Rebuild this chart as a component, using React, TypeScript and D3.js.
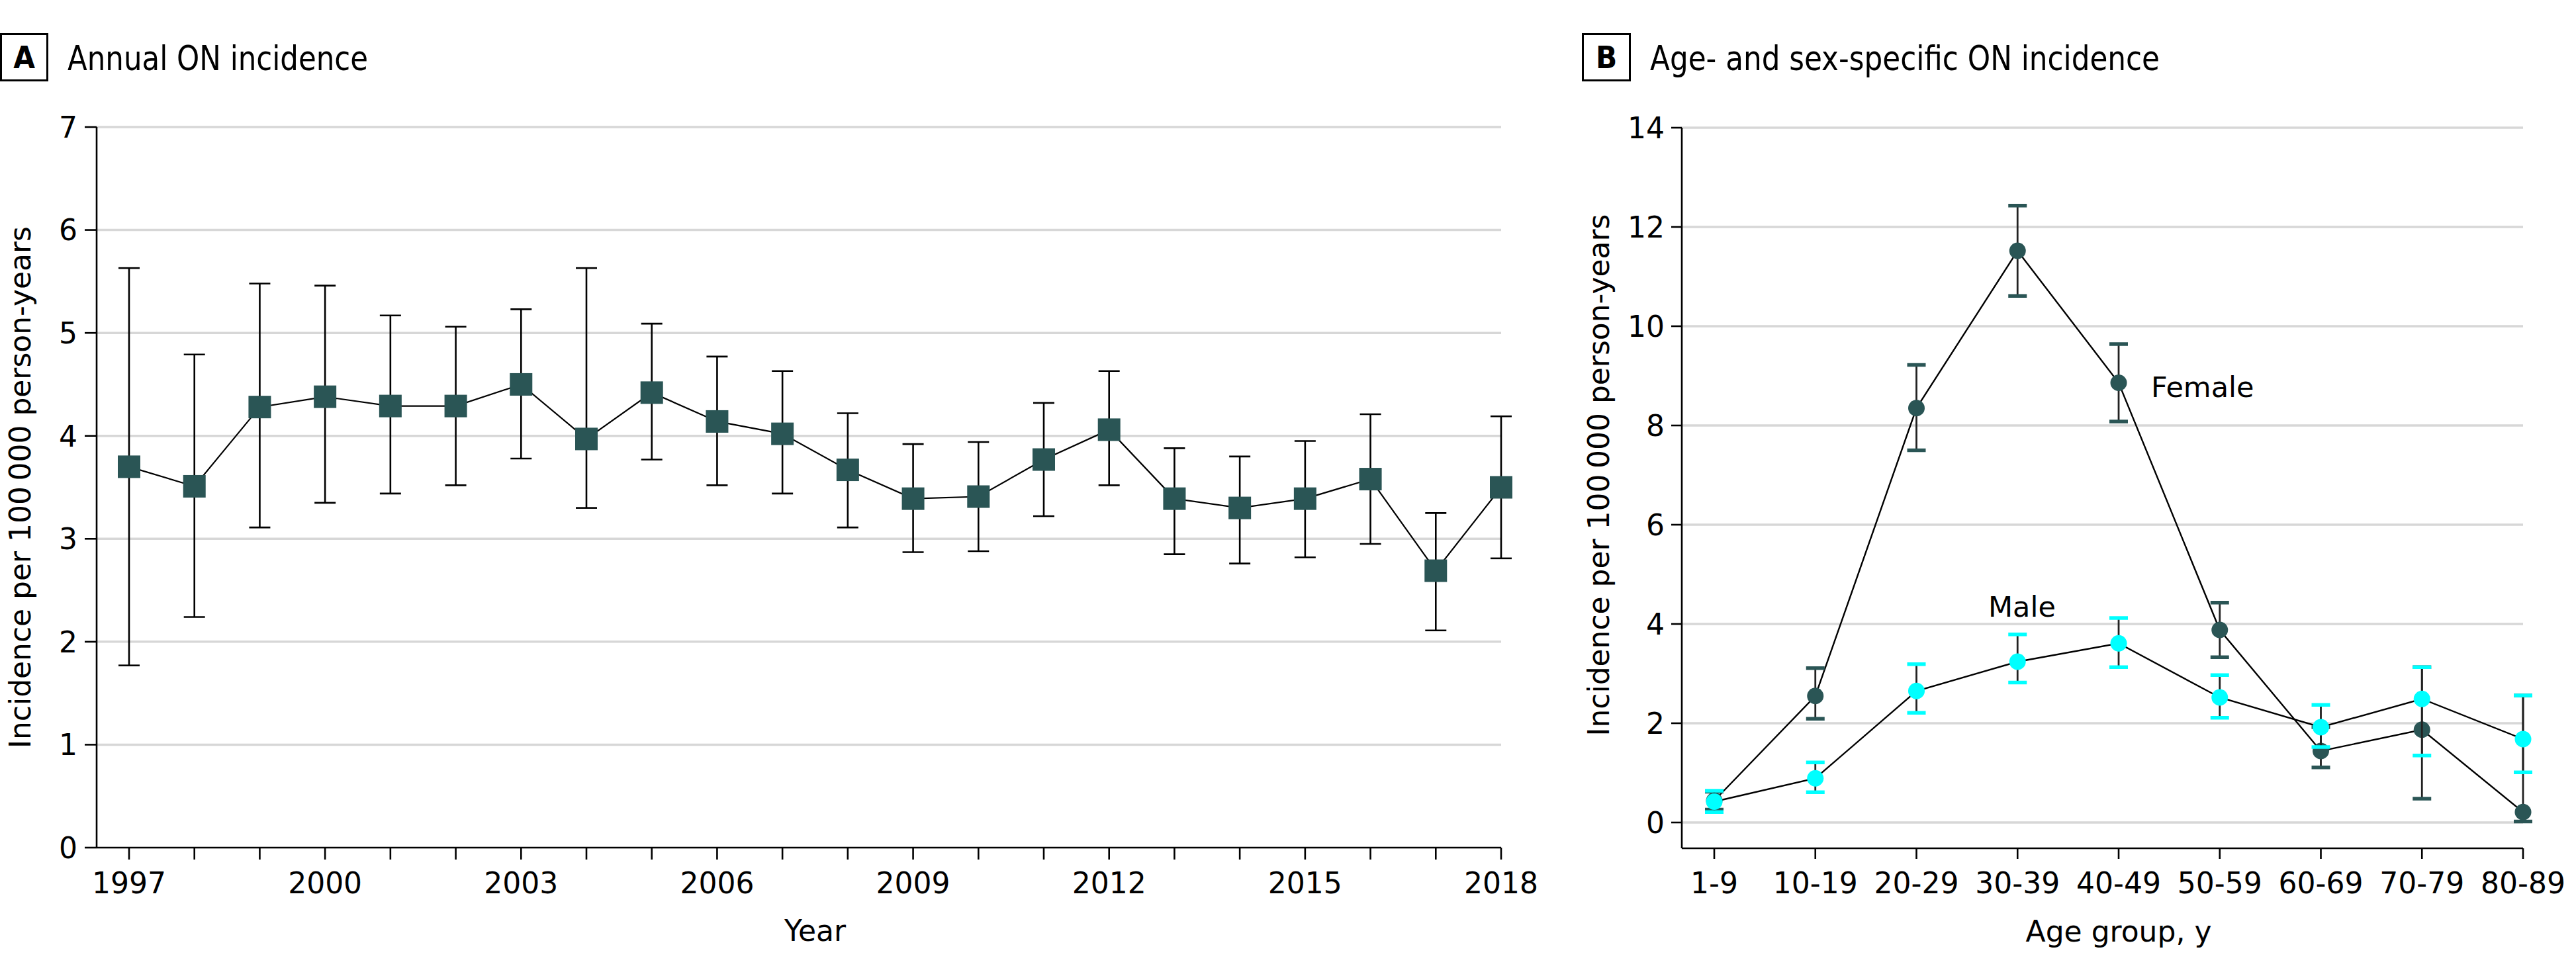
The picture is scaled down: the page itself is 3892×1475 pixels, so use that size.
import React from "react";
import * as d3 from "d3";

const years = [1997, 1998, 1999, 2000, 2001, 2002, 2003, 2004, 2005, 2006, 2007, 2008, 2009, 2010, 2011, 2012, 2013, 2014, 2015, 2016, 2017, 2018];
const yearTickLabels = [1997, 2000, 2003, 2006, 2009, 2012, 2015, 2018];
const annualRate = [3.70, 3.51, 4.28, 4.38, 4.29, 4.29, 4.50, 3.97, 4.42, 4.14, 4.02, 3.67, 3.39, 3.41, 3.77, 4.06, 3.39, 3.30, 3.39, 3.58, 2.69, 3.50];
const annualLower = [1.77, 2.24, 3.11, 3.35, 3.44, 3.52, 3.78, 3.30, 3.77, 3.52, 3.44, 3.11, 2.87, 2.88, 3.22, 3.52, 2.85, 2.76, 2.82, 2.95, 2.11, 2.81];
const annualUpper = [5.63, 4.79, 5.48, 5.46, 5.17, 5.06, 5.23, 5.63, 5.09, 4.77, 4.63, 4.22, 3.92, 3.94, 4.32, 4.63, 3.88, 3.80, 3.95, 4.21, 3.25, 4.19];
const yTicksA = [0, 1, 2, 3, 4, 5, 6, 7];

const ageGroups = ["1-9", "10-19", "20-29", "30-39", "40-49", "50-59", "60-69", "70-79", "80-89"];
const femaleRate = [0.44, 2.55, 8.35, 11.52, 8.86, 3.88, 1.44, 1.87, 0.21];
const femaleLower = [0.26, 2.09, 7.50, 10.61, 8.08, 3.33, 1.11, 0.48, 0.02];
const femaleUpper = [0.62, 3.11, 9.22, 12.43, 9.64, 4.43, 1.92, 3.13, 2.56];
const maleRate = [0.42, 0.89, 2.65, 3.24, 3.61, 2.52, 1.92, 2.49, 1.68];
const maleLower = [0.21, 0.61, 2.21, 2.82, 3.13, 2.11, 1.52, 1.35, 1.01];
const maleUpper = [0.64, 1.21, 3.19, 3.79, 4.12, 2.97, 2.37, 3.13, 2.56];
const yTicksB = [0, 2, 4, 6, 8, 10, 12, 14];

const DARK = "#2a5555";
const CYAN = "#00ffff";
const GRID = "#d7d7d7";
const FONT = "'DejaVu Sans', Verdana, sans-serif";
const COND = "'DejaVu Sans Condensed', 'Liberation Sans Narrow', 'DejaVu Sans', sans-serif";

export default function App() {
  const W = 3892, H = 1475;

  // Panel A scales
  const xA = d3.scaleLinear().domain([1997, 2018]).range([195, 2268]);
  const yA = d3.scaleLinear().domain([0, 7]).range([1281, 192]);
  const axisAx = 146;
  const lineA = d3.line<number>().x((_, i) => xA(years[i])).y((d) => yA(d));

  // Panel B scales
  const xB = d3.scalePoint<string>().domain(ageGroups).range([2590, 3812]);
  const yB = d3.scaleLinear().domain([0, 14]).range([1243, 193]);
  const axisBx = 2541;
  const axisBy = yB(-0.52);
  const lineB = d3.line<number>().x((_, i) => xB(ageGroups[i]) as number).y((d) => yB(d));

  const tickFs = 44;

  return (
    <svg width={W} height={H} style={{ position: "absolute", left: 0, top: 0, display: "block", background: "#fff" }}>
      <rect x={0} y={0} width={W} height={H} fill="#fff" />

      {/* ---------- Panel A ---------- */}
      <rect x={1.5} y={51.5} width={70} height={70} fill="none" stroke="#000" strokeWidth={3} />
      <text x={36.5} y={103} textAnchor="middle" fontFamily={COND} fontWeight="bold" fontSize={47}>A</text>
      <text x={102} y={106} fontFamily={COND} fontSize={52} textLength={454} lengthAdjust="spacingAndGlyphs">Annual ON incidence</text>

      {/* gridlines */}
      {yTicksA.filter((t) => t > 0).map((t) => (
        <line key={"ga" + t} x1={axisAx} x2={xA(2018)} y1={yA(t)} y2={yA(t)} stroke={GRID} strokeWidth={3.5} />
      ))}
      {/* y axis */}
      <line x1={axisAx} x2={axisAx} y1={yA(7)} y2={yA(0)} stroke="#000" strokeWidth={2.6} />
      {yTicksA.map((t) => (
        <g key={"ya" + t}>
          <line x1={axisAx - 18} x2={axisAx} y1={yA(t)} y2={yA(t)} stroke="#000" strokeWidth={2.6} />
          <text x={axisAx - 29} y={yA(t)} dy="0.36em" textAnchor="end" fontFamily={FONT} fontSize={tickFs}>{t}</text>
        </g>
      ))}
      {/* x axis */}
      <line x1={axisAx} x2={xA(2018)} y1={yA(0)} y2={yA(0)} stroke="#000" strokeWidth={2.6} />
      {years.map((yr) => (
        <line key={"xa" + yr} x1={xA(yr)} x2={xA(yr)} y1={yA(0)} y2={yA(0) + 18} stroke="#000" strokeWidth={2.6} />
      ))}
      {yearTickLabels.map((yr) => (
        <text key={"xl" + yr} x={xA(yr)} y={1350} textAnchor="middle" fontFamily={FONT} fontSize={tickFs}>{yr}</text>
      ))}
      <text x={(xA(1997) + xA(2018)) / 2} y={1422} textAnchor="middle" fontFamily={FONT} fontSize={44}>Year</text>
      <text transform={`translate(46, ${(yA(0) + yA(7)) / 2}) rotate(-90)`} textAnchor="middle" fontFamily={FONT} fontSize={44} textLength={789} lengthAdjust="spacingAndGlyphs">Incidence per 100&#8201;000 person-years</text>

      {/* error bars */}
      {years.map((yr, i) => (
        <g key={"ea" + yr} stroke="#000" strokeWidth={2.6}>
          <line x1={xA(yr)} x2={xA(yr)} y1={yA(annualLower[i])} y2={yA(annualUpper[i])} />
          <line x1={xA(yr) - 16} x2={xA(yr) + 16} y1={yA(annualLower[i])} y2={yA(annualLower[i])} />
          <line x1={xA(yr) - 16} x2={xA(yr) + 16} y1={yA(annualUpper[i])} y2={yA(annualUpper[i])} />
        </g>
      ))}
      <path d={lineA(annualRate) || ""} fill="none" stroke="#000" strokeWidth={2.2} />
      {years.map((yr, i) => (
        <rect key={"pa" + yr} x={xA(yr) - 17} y={yA(annualRate[i]) - 17} width={34} height={34} fill={DARK} />
      ))}

      {/* ---------- Panel B ---------- */}
      <rect x={2391.5} y={51.5} width={71} height={70} fill="none" stroke="#000" strokeWidth={3} />
      <text x={2427} y={103} textAnchor="middle" fontFamily={COND} fontWeight="bold" fontSize={47}>B</text>
      <text x={2493} y={106} fontFamily={COND} fontSize={52} textLength={770} lengthAdjust="spacingAndGlyphs">Age- and sex-specific ON incidence</text>

      {yTicksB.map((t) => (
        <line key={"gb" + t} x1={axisBx} x2={xB("80-89") as number} y1={yB(t)} y2={yB(t)} stroke={GRID} strokeWidth={3.5} />
      ))}
      <line x1={axisBx} x2={axisBx} y1={yB(14)} y2={axisBy} stroke="#000" strokeWidth={2.6} />
      {yTicksB.map((t) => (
        <g key={"yb" + t}>
          <line x1={axisBx - 16} x2={axisBx} y1={yB(t)} y2={yB(t)} stroke="#000" strokeWidth={2.6} />
          <text x={axisBx - 26} y={yB(t)} dy="0.36em" textAnchor="end" fontFamily={FONT} fontSize={tickFs}>{t}</text>
        </g>
      ))}
      <line x1={axisBx} x2={xB("80-89") as number} y1={axisBy} y2={axisBy} stroke="#000" strokeWidth={2.6} />
      {ageGroups.map((g) => (
        <g key={"xb" + g}>
          <line x1={xB(g) as number} x2={xB(g) as number} y1={axisBy} y2={axisBy + 16} stroke="#000" strokeWidth={2.6} />
          <text x={xB(g) as number} y={1350} textAnchor="middle" fontFamily={FONT} fontSize={tickFs}>{g}</text>
        </g>
      ))}
      <text x={((xB("1-9") as number) + (xB("80-89") as number)) / 2} y={1423} textAnchor="middle" fontFamily={FONT} fontSize={44}>Age group, y</text>
      <text transform={`translate(2431, ${(yB(0) + yB(14)) / 2}) rotate(-90)`} textAnchor="middle" fontFamily={FONT} fontSize={44} textLength={789} lengthAdjust="spacingAndGlyphs">Incidence per 100&#8201;000 person-years</text>

      {/* connecting lines */}
      <path d={lineB(femaleRate) || ""} fill="none" stroke="#000" strokeWidth={2.4} />
      <path d={lineB(maleRate) || ""} fill="none" stroke="#000" strokeWidth={2.4} />

      {/* female error bars and points */}
      {ageGroups.map((g, i) => {
        const x = xB(g) as number;
        return (
          <g key={"fe" + g}>
            <line x1={x} x2={x} y1={yB(femaleLower[i])} y2={yB(femaleUpper[i])} stroke="#222" strokeWidth={2.8} />
            <line x1={x - 14} x2={x + 14} y1={yB(femaleLower[i])} y2={yB(femaleLower[i])} stroke={DARK} strokeWidth={5.5} />
            <line x1={x - 14} x2={x + 14} y1={yB(femaleUpper[i])} y2={yB(femaleUpper[i])} stroke={DARK} strokeWidth={5.5} />
            <circle cx={x} cy={yB(femaleRate[i])} r={12.5} fill={DARK} />
          </g>
        );
      })}
      {/* male error bars and points */}
      {ageGroups.map((g, i) => {
        const x = xB(g) as number;
        return (
          <g key={"me" + g}>
            <line x1={x} x2={x} y1={yB(maleLower[i])} y2={yB(maleUpper[i])} stroke="#222" strokeWidth={2.8} />
            <line x1={x - 14} x2={x + 14} y1={yB(maleLower[i])} y2={yB(maleLower[i])} stroke={CYAN} strokeWidth={5.5} />
            <line x1={x - 14} x2={x + 14} y1={yB(maleUpper[i])} y2={yB(maleUpper[i])} stroke={CYAN} strokeWidth={5.5} />
            <circle cx={x} cy={yB(maleRate[i])} r={12.5} fill={CYAN} />
          </g>
        );
      })}

      <text x={3250} y={600} fontFamily={FONT} fontSize={43}>Female</text>
      <text x={3004} y={932} fontFamily={FONT} fontSize={43}>Male</text>
    </svg>
  );
}
